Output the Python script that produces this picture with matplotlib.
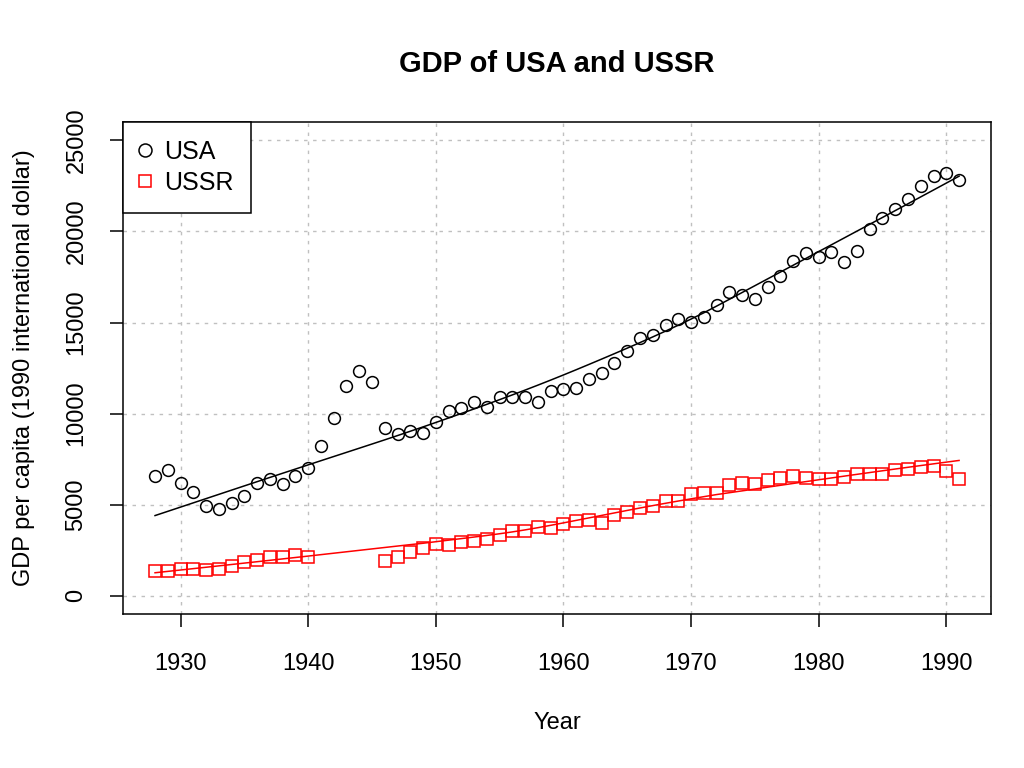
import numpy as np
import matplotlib
matplotlib.use("Agg")
import matplotlib.pyplot as plt

plt.rcParams['font.family'] = ['Liberation Sans', 'DejaVu Sans']

# GDP per capita, 1990 international dollars
usa_years = list(range(1928, 1992))
usa_gdp = [6569, 6899, 6213, 5691, 4908, 4777, 5114, 5467, 6204, 6430,
           6126, 6561, 7010, 8206, 9741, 11518, 12333, 11709, 9197, 8886,
           9065, 8944, 9561, 10116, 10316, 10613, 10359, 10897, 10914, 10920,
           10631, 11230, 11328, 11402, 11905, 12242, 12773, 13419, 14134, 14330,
           14863, 15179, 15030, 15304, 15944, 16689, 16491, 16284, 16975, 17567,
           18373, 18789, 18577, 18856, 18325, 18920, 20123, 20717, 21236, 21788,
           22499, 23059, 23201, 22849]

# no USSR figures for the war years 1941-1945
ussr_years = list(range(1928, 1941)) + list(range(1946, 1992))
ussr_gdp = [1370, 1386, 1448, 1462, 1439, 1493, 1630, 1864, 1991, 2156,
            2150, 2237, 2144,
            1913, 2126, 2402, 2623, 2841, 2806, 2937, 3013, 3106, 3313,
            3566, 3576, 3777, 3697, 3945, 4091, 4140, 3985, 4439, 4626,
            4806, 4955, 5202, 5220, 5575, 5667, 5643, 6059, 6176, 6136,
            6363, 6453, 6567, 6486, 6427, 6432, 6544, 6681, 6700, 6708,
            6924, 6943, 7043, 7112, 6871, 6409]


def lowess(x, y, f=2/3, iters=3):
    # same smoother as R's lowess()
    x = np.asarray(x, float)
    y = np.asarray(y, float)
    n = len(x)
    ns = max(min(int(f * n + 1e-7), n), 2)
    rng = x[-1] - x[0]
    rw = np.ones(n)
    ys = np.zeros(n)
    for it in range(iters + 1):
        nleft, nright = 0, ns - 1
        for i in range(n):
            xs = x[i]
            while nright < n - 1 and xs - x[nleft] > x[nright + 1] - xs:
                nleft += 1
                nright += 1
            h = max(xs - x[nleft], x[nright] - xs)
            h9, h1 = 0.999 * h, 0.001 * h
            r = np.abs(x - xs)
            w = np.where(r <= h9, (1 - (r / h) ** 3) ** 3, 0.0)
            w[r <= h1] = 1.0
            w[:nleft] = 0.0
            if it > 0:
                w = w * rw
            w = w / w.sum()
            a = np.sum(w * x)
            c = np.sum(w * (x - a) ** 2)
            if np.sqrt(c) > 0.001 * rng:
                b = (xs - a) / c
                w = w * (b * (x - a) + 1)
            ys[i] = np.sum(w * y)
        if it == iters:
            break
        res = y - ys
        cmad = 6 * np.median(np.abs(res))
        if cmad < 1e-7 * np.mean(np.abs(y)):
            break
        u = np.abs(res) / cmad
        rw = np.where(u <= 0.999, (1 - u ** 2) ** 2, 0.0)
        rw[np.abs(res) <= 0.001 * cmad] = 1.0
    return ys


fig = plt.figure(figsize=(10.24, 7.68), dpi=100)
ax = fig.add_axes([0.120, 0.2005, 0.848, 0.6405])

ax.plot(usa_years, usa_gdp, 'o', mfc='none', mec='black', ms=8.5, mew=1.1,
        label='USA', zorder=3)
ax.plot(ussr_years, ussr_gdp, 's', mfc='none', mec='red', ms=8.5, mew=1.1,
        label='USSR', zorder=3)
ax.plot(usa_years, lowess(usa_years, usa_gdp), color='black', lw=1.1, zorder=2)
ax.plot(ussr_years, lowess(ussr_years, ussr_gdp), color='red', lw=1.1, zorder=2)

ax.set_xlim(1925.48, 1993.52)
ax.set_ylim(-1000, 26000)
ax.set_xticks(range(1930, 1991, 10))
ax.set_yticks(range(0, 25001, 5000))
ax.grid(True, color='#c0c0c0', linestyle=(0, (2.5, 4)), lw=1.0, zorder=0)

for s in ax.spines.values():
    s.set_linewidth(1.1)
ax.tick_params(direction='out', length=9.5, width=1.1, labelsize=17, pad=16)
ax.tick_params(axis='x', pad=18.5)
ax.tick_params(axis='y', labelrotation=90)
for lab in ax.get_yticklabels():
    lab.set_va('center')

ax.set_title('GDP of USA and USSR', fontsize=21, fontweight='bold', pad=36)
ax.set_xlabel('Year', fontsize=17, labelpad=27)
ax.set_ylabel('GDP per capita (1990 international dollar)', fontsize=17,
              labelpad=22)

leg = ax.legend(loc='upper left', fontsize=18, frameon=True, fancybox=False,
                borderaxespad=0, edgecolor='black', framealpha=1,
                handletextpad=0.55, borderpad=0.7, labelspacing=0.3,
                handlelength=0.4, markerscale=1.1)
leg.get_frame().set_linewidth(1.1)

fig.savefig('out.png', dpi=100)
